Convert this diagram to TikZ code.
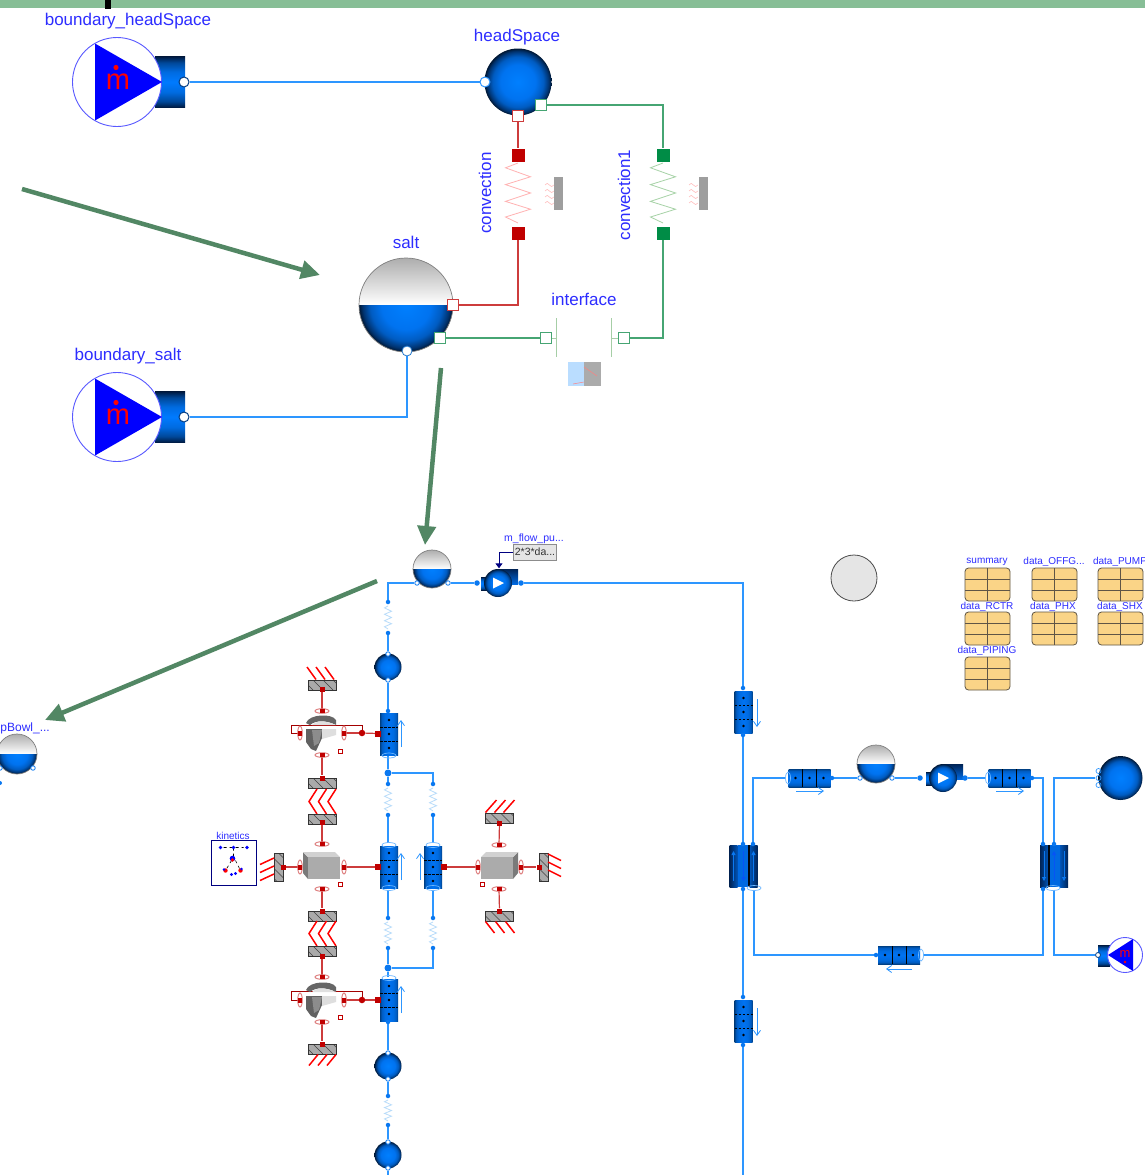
\documentclass[tikz,border=0pt]{standalone}
\usepackage{fontspec}
\setmainfont{Liberation Sans}
\usetikzlibrary{arrows.meta,calc}
\definecolor{flowc}{RGB}{45,150,255}
\definecolor{flowd}{RGB}{10,120,240}
\definecolor{palez}{RGB}{185,220,250}
\definecolor{lblc}{RGB}{45,45,255}
\definecolor{redd}{RGB}{192,0,0}
\definecolor{redl}{RGB}{205,60,60}
\definecolor{grnd}{RGB}{0,140,70}
\definecolor{grnl}{RGB}{70,165,115}
\definecolor{arrowg}{RGB}{82,135,100}
\definecolor{stripg}{RGB}{135,190,150}
\definecolor{tabc}{RGB}{250,212,135}
\definecolor{tabl}{RGB}{95,85,70}
\definecolor{bard}{RGB}{170,170,170}
\definecolor{ddark}{RGB}{0,35,85}
\definecolor{dmid}{RGB}{0,105,225}
\pgfdeclareradialshading{mball}{\pgfpointorigin}{rgb(0bp)=(0,.50,1); rgb(13bp)=(0,.45,.94); rgb(19bp)=(0,.36,.76); rgb(23bp)=(0,.20,.44); rgb(25bp)=(0,.09,.20); rgb(50bp)=(0,.09,.20)}
\pgfdeclareverticalshading{vbody}{100bp}{rgb(0bp)=(0,.10,.25); rgb(25bp)=(0,.10,.25); rgb(31bp)=(0,.28,.60); rgb(40bp)=(0,.42,.88); rgb(50bp)=(0,.48,1); rgb(60bp)=(0,.42,.88); rgb(69bp)=(0,.28,.60); rgb(75bp)=(0,.10,.25); rgb(100bp)=(0,.10,.25)}
\pgfdeclareverticalshading{pbody}{100bp}{rgb(0bp)=(0,.25,.52); rgb(25bp)=(0,.25,.52); rgb(30bp)=(0,.36,.76); rgb(38bp)=(0,.42,.88); rgb(50bp)=(0,.45,.95); rgb(62bp)=(0,.42,.88); rgb(70bp)=(0,.36,.76); rgb(75bp)=(0,.25,.52); rgb(100bp)=(0,.25,.52)}
\pgfdeclarelayer{wires}
\pgfsetlayers{wires,main}
\tikzset{
 flow/.style={draw=flowc,line width=1.05pt},
 redw/.style={draw=redl,line width=1.2pt},
 grnw/.style={draw=grnl,line width=1.25pt},
 big/.style={text=lblc,inner sep=0pt,font=\fontsize{17}{19}\selectfont},
 small/.style={text=lblc,inner sep=0pt,font=\fontsize{10}{12}\selectfont},
 dotp/.style={circle,fill=flowd,inner sep=0pt,minimum size=5.5pt},
 holep/.style={circle,draw=flowd,fill=white,line width=.8pt,inner sep=0pt,minimum size=4.5pt},
 bigp/.style={circle,draw=ddark!70!flowd,fill=white,line width=1pt,inner sep=0pt,minimum size=10pt},
 sqr/.style={rectangle,draw=redl,fill=white,line width=1pt,inner sep=0pt,minimum size=11pt},
 sqg/.style={rectangle,draw=grnl,fill=white,line width=1pt,inner sep=0pt,minimum size=11pt},
 fsqr/.style={rectangle,fill=redd,inner sep=0pt,minimum size=13pt},
 fsqg/.style={rectangle,fill=grnd,inner sep=0pt,minimum size=13pt},
 msq/.style={rectangle,fill=redd,inner sep=0pt,minimum size=5pt},
 tinysq/.style={rectangle,draw=redd,fill=white,line width=.6pt,inner sep=0pt,minimum size=4pt},
 ring/.style={draw=redl!70,line width=.9pt},
 leg/.style={draw=red,line width=1.5pt},
 garrow/.style={draw=arrowg,line width=4.5pt,-{Triangle[length=19pt,width=18pt]}},
 anch/.style={inner sep=0pt,minimum size=1pt},
}
\newcommand{\Ball}[4]{\shade[shading=mball] (#2,#3) circle[radius=#4];
 \node[circle,inner sep=0pt,minimum size=#4*2pt] (#1) at (#2,#3) {};}
\newcommand{\Tank}[4]{\begin{scope}\clip (#2,#3) circle[radius=#4];
 \shade[top color=black!32,bottom color=white] (#2-#4,#3-#4) rectangle (#2+#4,#3);
 \begin{scope}\clip (#2-#4,#3) rectangle (#2+#4,#3+#4);
 \shade[shading=mball] (#2,#3) circle[radius=#4];\end{scope}
 \end{scope}
 \draw[black!50,line width=.7pt] (#2,#3) circle[radius=#4];
 \node[circle,inner sep=0pt,minimum size=#4*2pt] (#1) at (#2,#3) {};}
\newcommand{\Zig}[5]{\draw[#5,line width=.8pt,shift={(#1,#2)},xscale=#4,yscale=#3]
 (0,0)--(-1,.08)--(1,.23)--(-1,.36)--(1,.5)--(-1,.64)--(1,.77)--(-1,.9)--(0,1);}
\newcommand{\Res}[4]{\node[dotp,minimum size=4.5pt] (#1-t) at (#2,#3) {};
 \node[dotp,minimum size=4.5pt] (#1-b) at (#2,#4) {};
 \Zig{#2}{#3+4}{#4-#3-8}{3.5}{palez}}
\newcommand{\VPipe}[3]{\shade[shading=pbody,shading angle=90] (#2-9,#3-21) rectangle (#2+9,#3+21);
 \draw[black,line width=.7pt,dash pattern=on 2.5pt off 1.5pt] (#2-9,#3-7)--(#2+9,#3-7) (#2-9,#3+7)--(#2+9,#3+7);
 \fill[black] (#2,#3-14) circle[radius=1.3] (#2,#3) circle[radius=1.3] (#2,#3+14) circle[radius=1.3];
 \node[inner sep=0pt,minimum width=18pt,minimum height=42pt] (#1) at (#2,#3) {};}
\newcommand{\HPipe}[3]{\shade[shading=pbody] (#2-21,#3-9) rectangle (#2+21,#3+9);
 \draw[black,line width=.7pt] (#2-7,#3-9)--(#2-7,#3+9) (#2+7,#3-9)--(#2+7,#3+9);
 \fill[black] (#2-14,#3) circle[radius=1.3] (#2,#3) circle[radius=1.3] (#2+14,#3) circle[radius=1.3];
 \node[inner sep=0pt,minimum width=42pt,minimum height=18pt] (#1) at (#2,#3) {};}
\newcommand{\FRing}[2]{\draw[flowc!70,line width=.7pt] (#1,#2) ellipse[x radius=7,y radius=2.5];}
\newcommand{\FRingV}[2]{\draw[flowc!70,line width=.7pt] (#1,#2) ellipse[x radius=2.5,y radius=6];}
\newcommand{\PArrow}[4]{\draw[flowc,line width=.8pt,-{Straight Barb[length=5pt,width=7pt]}] (#1,#2)--(#3,#4);}
\newcommand{\HX}[6]{\shade[left color=ddark,right color=dmid!70!ddark] (#2-14,#3-21) rectangle (#2-6,#3+21);
 \shade[left color=dmid!70!ddark,right color=ddark] (#2+6,#3-21) rectangle (#2+14,#3+21);
 \fill[dmid] (#2-6,#3-21) rectangle (#2+6,#3+21);
 \fill[black!85!ddark] (#2+#6-1,#3-21) rectangle (#2+#6+1,#3+21);
 \draw[flowd,line width=.9pt,#4] (#2-10,#3-15)--(#2-10,#3+15);
 \draw[flowd,line width=.9pt,#4] (#2+10,#3-15)--(#2+10,#3+15);
 \draw[flowd!70!blue,line width=.9pt,#5] (#2,#3-15)--(#2,#3+15);
 \node[inner sep=0pt,minimum width=28pt,minimum height=42pt] (#1) at (#2,#3) {};}
\newcommand{\BarH}[3]{\begin{scope}\clip (#2-14,#3-5) rectangle (#2+14,#3+5);
 \fill[bard] (#2-14,#3-5) rectangle (#2+14,#3+5);
 \foreach \d in {-14,-4,6,16}{\draw[black!75,line width=.6pt] (#2+\d-5,#3-5)--(#2+\d+5,#3+5);}
 \end{scope}\draw[black!80,line width=.8pt] (#2-14,#3-5) rectangle (#2+14,#3+5);
 \node[inner sep=0pt,minimum width=28pt,minimum height=10pt] (#1) at (#2,#3) {};}
\newcommand{\BarV}[3]{\begin{scope}\clip (#2-4.5,#3-14) rectangle (#2+4.5,#3+14);
 \fill[bard] (#2-4.5,#3-14) rectangle (#2+4.5,#3+14);
 \foreach \d in {-14,-4,6,16}{\draw[black!75,line width=.6pt] (#2-5,#3+\d-5)--(#2+5,#3+\d+5);}
 \end{scope}\draw[black!80,line width=.8pt] (#2-4.5,#3-14) rectangle (#2+4.5,#3+14);
 \node[inner sep=0pt,minimum width=9pt,minimum height=28pt] (#1) at (#2,#3) {};}
\newcommand{\RingH}[3]{\draw[ring] (#2,#3) ellipse[x radius=7,y radius=2.3];\node[msq,minimum width=5pt,minimum height=4pt] (#1) at (#2,#3) {};}
\newcommand{\RingV}[3]{\draw[ring] (#2,#3) ellipse[x radius=2.3,y radius=7];\node[msq,minimum width=4pt,minimum height=5pt] (#1) at (#2,#3) {};}
\newcommand{\Chev}[2]{\foreach \d in {-5,4.5,14}{\draw[leg,line join=miter] (#1+\d,#2)--(#1+\d-8,#2+12.5)--(#1+\d,#2+25);}}
\newcommand{\Cube}[3]{\begin{scope}[shift={(#1,#2)},xscale=#3]
 \fill[black!52] (-19,-15)--(-14,-10)--(-14,12)--(-19,6)--cycle;
 \fill[black!18] (-19,-15)--(13,-15)--(18,-10)--(-14,-10)--cycle;
 \fill[black!33] (-14,-10) rectangle (18,12);
 \end{scope}}
\newcommand{\Revol}[2]{\begin{scope}[shift={(#1,#2)}]
 \fill[black!60] (-16,-10) .. controls (-13,-19) and (10,-20) .. (14,-13) -- (14,-8) .. controls (4,-13) and (-6,-13) .. (-12,-8) -- cycle;
 \fill[black!12] (-10,-8) .. controls (-5,-13) and (5,-12) .. (14,-8) -- cycle;
 \fill[black!62] (-16,-4)--(0,-4)--(0,5)--(-6,18)--(-11,16)--(-16,9)--cycle;
 \fill[black!45] (-10,-3)--(0,-3)--(-3,10)--(-8,13)--cycle;
 \fill[black!13] (0,-4)--(14,-4)--(14,2)--(0,6)--cycle;
 \end{scope}}
\newcommand{\Boundary}[3]{\begin{scope}[shift={(#2,#3)}]
 \shade[shading=vbody] (38,-25.5) rectangle (68,25.5);
 \draw[blue!65,line width=.9pt,fill=white] (0,0) circle[radius=44.5];
 \fill[blue] (-22,-38.5)--(45,0)--(-22,38.5)--cycle;
 \node[inner sep=0pt,text=red,font=\fontsize{29}{30}\selectfont] (#1-m) at (1,0) {m};
 \fill[red] (-1,-14.5) circle[radius=2.6];
 \end{scope}
 \node[bigp] (#1-p) at (#2+67,#3) {};}
\newcommand{\Pump}[3]{\begin{scope}[shift={(#2,#3)}]
 \shade[shading=vbody] (-17,-6) rectangle (0,7);
 \shade[top color=ddark,bottom color=dmid] (0,-14) rectangle (20,1);
 \shade[shading=mball] (0,0) circle[radius=14];
 \fill[white] (-5,-5.5)--(6,0)--(-5,5.5)--cycle;
 \end{scope}
 \node[circle,inner sep=0pt,minimum size=28pt] (#1) at (#2,#3) {};}
\newcommand{\Tab}[3]{\draw[tabl,line width=.8pt,fill=tabc,rounded corners=3.5pt] (#2,#3) rectangle (#2+45,#3+33);
 \draw[tabl,line width=1pt] (#2+22.5,#3)--(#2+22.5,#3+33) (#2,#3+11)--(#2+45,#3+11) (#2,#3+22)--(#2+45,#3+22);
 \node[inner sep=0pt,minimum width=45pt,minimum height=33pt,anchor=north west] (#1) at (#2,#3) {};}
\newcommand{\Wig}[2]{\foreach \d in {-8,-2,4,10}{\draw[red!25,line width=.6pt] (#1,#2+\d) sin +(2.2,-1.6) cos +(2.2,1.6) sin +(2.2,1.6) cos +(2.2,-1.6);}}
\begin{document}
\begin{tikzpicture}[x=1pt,y=-1pt]
\useasboundingbox (0,0) rectangle (1145,1175);
\begin{pgfonlayer}{wires}\fill[white] (0,0) rectangle (1145,1175);\end{pgfonlayer}
\fill[stripg] (0,0) rectangle (1145,8);
\fill[black] (105,0) rectangle (111,9);
% ---- top diagram
\Boundary{bh}{117}{82}
\Boundary{bs}{117}{417}
\node[big] (lbh) at (128,21) {boundary\_headSpace};
\node[big] (lbs) at (128,356) {boundary\_salt};
\Ball{hs}{518}{82}{33.5}
\node[big] (lhs) at (517,37.5) {headSpace};
\node[bigp,draw=flowc,line width=1pt] (hsp) at (485,82) {};
\node[sqr] (hsr) at (518,116) {};
\node[sqg] (hsg) at (541,105) {};
\Tank{sa}{406}{305}{47}
\node[big] (lsa) at (406,242) {salt};
\node[sqr] (sar) at (453,305) {};
\node[sqg] (sag) at (440,338) {};
\node[holep,minimum size=10pt,draw=flowc!80!black] (sab) at (407,351) {};
\node[big,rotate=90] (lc1) at (485,193) {convection};
\node[fsqr] (c1t) at (518,155) {};
\node[fsqr] (c1b) at (518,233) {};
\Zig{518}{163}{60}{12.5}{red!30}
\fill[black!38] (554,177) rectangle (563,210);
\Wig{545}{193}
\node[fsqg] (c2t) at (663,155) {};
\node[fsqg] (c2b) at (663,233) {};
\Zig{663}{163}{60}{12.5}{green!50!black!35}
\fill[black!38] (699,177) rectangle (708,210);
\Wig{689}{193}
\node[big,rotate=90] (lc2) at (624,195) {convection1};
\node[big] (lif) at (584,299) {interface};
\node[sqg] (ifl) at (546,338) {};
\node[sqg] (ifr) at (624,338) {};
\draw[green!45!black!35,line width=.8pt] (556.5,318)--(556.5,357) (611.5,318)--(611.5,357) (552,338)--(556.5,338) (611.5,338)--(618,338);
\fill[blue!50!cyan!27] (568,362) rectangle (584,386);
\fill[black!33] (584,362) rectangle (601,386);
\draw[red!50,line width=.5pt] (584,367)--(597,376) (573,384)--(584,382);
% ---- lower tank + pump
\Tank{tk}{432}{569}{19}
\node[holep] (tkl) at (417,583) {};
\node[holep] (tkr) at (448,583) {};
\Pump{pu}{498}{583}
\node[dotp] (pul) at (477,583) {};
\node[dotp] (pur) at (521,583) {};
\node[small,font=\fontsize{10.5}{12}\selectfont] (lmf) at (534,538.5) {m\_flow\_pu...};
\node[draw=black!45,fill=black!10,line width=1pt,inner sep=0pt,minimum width=43pt,minimum height=16pt,font=\fontsize{10.5}{12}\selectfont,text=black!80] (cst) at (535,552) {2*3*da...};
\node[anch] (put) at (499,569) {};
\draw[blue!50!black,line width=1pt,-{Triangle[length=5pt,width=7pt]}] (cst.west) -| (put);
\node[circle,draw=black!70,fill=black!10,line width=.8pt,inner sep=0pt,minimum size=46pt] (dsk) at (854,578) {};
% tables
\node[small] (t1) at (987,562) {summary};
\node[small] (t2) at (1054,562) {data\_OFFG...};
\node[small] (t3) at (1120,562) {data\_PUMP};
\node[small] (t4) at (987,606.5) {data\_RCTR};
\node[small] (t5) at (1053,606.5) {data\_PHX};
\node[small] (t6) at (1120,606.5) {data\_SHX};
\node[small] (t7) at (987,651) {data\_PIPING};
\Tab{d1}{965}{568}\Tab{d2}{1032}{568}\Tab{d3}{1098}{568}
\Tab{d4}{965}{612}\Tab{d5}{1032}{612}\Tab{d6}{1098}{612}
\Tab{d7}{965}{657}
% left tank
\Tank{lt}{17}{754}{20}
\node[holep] (ltl) at (0,768) {};
\node[holep] (ltr) at (33,768) {};
\node[small,anchor=east,font=\fontsize{12}{13}\selectfont] (llt) at (50,728) {pBowl\_...};
\node[dotp,minimum size=4pt] (ltd) at (0,783) {};
% ---- core column
\Res{r1}{388}{602}{633}
\Ball{s1}{388}{667}{13.5}
\node[holep] (s1t) at (388,654) {};
\node[holep] (s1b) at (388,680) {};
\VPipe{p1}{389}{734}
\node[dotp,minimum size=4.5pt] (p1t) at (388,711) {};
\FRing{389}{755.5}
\node[anch] (p1b) at (388,755) {};
\PArrow{401}{747}{401}{720}
\node[dotp,minimum size=7pt] (j1) at (388,773) {};
\Res{r2}{388}{784}{815}
\Res{r3}{433}{784}{815}
\VPipe{p2}{389}{867}\VPipe{p2b}{433}{867}
\FRing{389}{845}\FRing{389}{888}\FRing{433}{845}\FRing{433}{888}
\node[anch] (p2t) at (388,844) {};
\node[anch] (p2d) at (388,889) {};
\node[anch] (p3t) at (433,844) {};
\node[anch] (p3d) at (433,889) {};
\PArrow{401}{880}{401}{853}
\PArrow{420}{880}{420}{853}
\Res{r4}{388}{918}{948}
\Res{r5}{433}{918}{948}
\node[dotp,minimum size=7pt] (j2) at (388,968) {};
\VPipe{p4}{389}{1000}
\FRing{389}{978}
\node[anch] (p4t) at (388,978) {};
\node[dotp,minimum size=4.5pt] (p4b) at (388,1022) {};
\PArrow{401}{1013}{401}{986}
\Ball{s3}{388}{1066}{13.5}
\node[holep] (s3t) at (388,1053) {};
\node[holep] (s3b) at (388,1079) {};
\Res{r6}{388}{1096}{1125}
\Ball{s4}{388}{1155}{13.5}
\node[holep] (s4t) at (388,1142) {};
\node[holep] (s4b) at (388,1168) {};
\coordinate (e1) at (388,1175);
% ---- mechanical: upper left
\BarH{b1}{322}{685}
\node[msq] (b1p) at (322,689) {};
\foreach \d in {-5,4,13}{\draw[leg] (322+\d-1,679.5)--(322+\d-10,667);}
\RingH{rg1}{322}{711}
\Revol{322}{733}
\RingV{rg2}{300}{733}
\RingV{rg3}{344}{733}
\node[circle,fill=redd,inner sep=0pt,minimum size=6.5pt] (dt1) at (362,733) {};
\node[msq,minimum size=6pt] (pp1) at (378,733.5) {};
\node[tinysq] (tq1) at (340,751) {};
\RingH{rg4}{322}{755}
\BarH{b2}{322}{783}
\node[msq] (b2p) at (322,778) {};
\Chev{322}{789}
\BarH{b3}{322}{819}
\node[msq] (b3p) at (322,822) {};
\RingH{rg5}{322}{844}
\Cube{322}{867}{1}
\RingV{rg6}{300}{867}
\RingV{rg7}{344}{867}
\node[msq,minimum size=6pt] (pp2) at (378,867) {};
\node[tinysq] (tq2) at (340,884) {};
\BarV{b4}{278.5}{867}
\node[msq] (b4p) at (283,867) {};
\foreach \d in {-8,0,8}{\draw[leg] (274,867+\d-1)--(260,867+\d+5.5);}
\node[draw=blue!50!black,fill=white,line width=.9pt,inner sep=0pt,minimum size=45pt] (kin) at (233.5,862.5) {};
\node[small] (lkin) at (233,836) {kinetics};
\begin{scope}[shift={(233.5,862.5)}]
\draw[black,line width=.6pt,dashed] (-10,-15)--(10,-15) (0,-15)--(0,-5) (-2,-2)--(-8,8) (2,-2)--(7,8);
\fill[blue] (-13,-15) circle[radius=1.8] (0,-15) circle[radius=1.8] (13.5,-15) circle[radius=1.8];
\fill[blue] (-1,-4) circle[radius=2.8]; \fill[red] (-1,-2.5) circle[radius=1.8];
\fill[red] (-8,8) circle[radius=2.2]; \fill[blue] (-9.5,7) circle[radius=1.4];
\fill[red] (7,8) circle[radius=2.2]; \fill[blue] (8,6.5) circle[radius=1.4];
\fill[blue] (-2,12) circle[radius=1.6] (2,11) circle[radius=1.6];
\end{scope}
% ---- mechanical: lower left
\RingH{rg8}{322}{889}
\BarH{b5}{322}{916}
\node[msq] (b5p) at (322,911) {};
\Chev{322}{921}
\BarH{b6}{322}{951}
\node[msq] (b6p) at (322,956) {};
\RingH{rg9}{322}{977}
\Revol{322}{1000}
\RingV{rg10}{300}{1000}
\RingV{rg11}{344}{1000}
\node[circle,fill=redd,inner sep=0pt,minimum size=6.5pt] (dt2) at (362,1000) {};
\node[msq,minimum size=6pt] (pp3) at (378,1000) {};
\node[tinysq] (tq3) at (340,1017) {};
\RingH{rg12}{322}{1022}
\BarH{b7}{322}{1049}
\node[msq] (b7p) at (322,1044) {};
\foreach \d in {-14,-5,4}{\draw[leg] (322+\d+10,1054.5)--(322+\d+1,1065.5);}
% ---- mechanical: right
\Cube{499}{867}{-1}
\RingV{rg13}{478}{867}
\RingV{rg14}{521}{867}
\RingH{rg15}{499}{845}
\RingH{rg16}{499}{889}
\node[msq,minimum size=6pt] (pp4) at (444,867) {};
\node[tinysq] (tq4) at (482,884) {};
\BarH{b8}{499.5}{818}
\node[msq] (b8p) at (499.5,823) {};
\foreach \d in {-13,-4,5}{\draw[leg] (499.5+\d-1,812.5)--(499.5+\d+10,800);}
\BarH{b9}{499.5}{916}
\node[msq] (b9p) at (499.5,911) {};
\foreach \d in {-14,-4,6}{\draw[leg] (499.5+\d,921.5)--(499.5+\d+9,933);}
\BarV{b10}{543.5}{867}
\node[msq] (b10p) at (539,867) {};
\foreach \d in {-8,0,8}{\draw[leg] (548,867+\d-5)--(561,867+\d+1.5);}
% ---- main right
\VPipe{pa}{743.5}{712}
\node[dotp,minimum size=4.5pt] (pat) at (743,688) {};
\node[dotp,minimum size=4.5pt] (pab) at (743,735) {};
\PArrow{757}{699}{757}{727}
\HX{hx1}{743.5}{866}{{Triangle[length=4pt,width=4pt]}-}{-{Triangle[length=4pt,width=4pt]}}{5.5}
\node[dotp,minimum size=4.5pt] (hxt) at (743,844) {};
\node[dotp,minimum size=4.5pt] (hxb) at (743,889) {};
\node[dotp,minimum size=4.5pt] (hxrt) at (753,844) {};
\FRing{754}{888}
\node[anch] (hxrb) at (754,889) {};
\VPipe{pb}{743.5}{1021}
\node[dotp,minimum size=4.5pt] (pbt) at (743,997) {};
\node[dotp,minimum size=4.5pt] (pbb) at (743,1045) {};
\PArrow{757}{1008}{757}{1036}
\coordinate (e2) at (743,1175);
% ---- loop
\HPipe{h1}{809.5}{778}
\FRingV{788}{778}
\node[anch] (h1l) at (787,778) {};
\node[dotp,minimum size=4.5pt] (h1r) at (832,778) {};
\PArrow{796}{791}{824}{791}
\Tank{tk2}{876}{764}{19}
\node[holep] (t2l) at (860,778) {};
\node[holep] (t2r) at (892,778) {};
\Pump{pu2}{943}{778}
\node[dotp] (p2l) at (920,778) {};
\node[dotp] (p2r) at (965,778) {};
\HPipe{h2}{1009.5}{778}
\FRingV{988}{778}
\node[anch] (h2l) at (987,778) {};
\node[dotp,minimum size=4.5pt] (h2r) at (1032,778) {};
\PArrow{996}{791}{1024}{791}
\HX{hx2}{1054}{866}{-{Triangle[length=4pt,width=4pt]}}{{Triangle[length=4pt,width=4pt]}-}{-5.5}
\node[dotp,minimum size=4.5pt] (hx2t) at (1043,844) {};
\node[dotp,minimum size=4.5pt] (hx2u) at (1054,844) {};
\node[dotp,minimum size=4.5pt] (hx2b) at (1043,889) {};
\FRing{1053}{888}
\node[anch] (hx2v) at (1054,889) {};
\HPipe{h3}{899}{955}
\node[dotp,minimum size=4.5pt] (h3l) at (876,955) {};
\FRingV{921}{955}
\node[anch] (h3r) at (922,955) {};
\PArrow{912}{969}{886}{969}
\Ball{sk}{1120.5}{778}{22}
\foreach \d in {-7,0,7}{\draw[flowc,line width=.7pt] (1098.5,778+\d) circle[radius=2.5];}
\node[anch] (skp) at (1096,778) {};
% small boundary
\shade[shading=vbody] (1098,945) rectangle (1110,966);
\draw[blue!65,line width=.9pt,fill=white] (1125,955) circle[radius=17.5];
\fill[blue] (1108,955)--(1133,939)--(1133,971)--cycle;
\node[inner sep=0pt,text=red,font=\fontsize{13}{14}\selectfont] (bsm) at (1125,954) {m};
\fill[red] (1125,962) circle[radius=1.4];
\node[holep,minimum size=5pt,draw=ddark!70!flowd] (bsp) at (1098,955) {};
% ---- wires
\begin{pgfonlayer}{wires}
\draw[flow] (bh-p) -- (hsp);
\draw[flow] (bs-p) -| (sab);
\draw[redw] (hsr) -- (c1t);
\draw[grnw] (hsg) -| (c2t);
\draw[redw] (sar) -| (c1b);
\draw[grnw] (sag) -- (ifl);
\draw[grnw] (ifr) -| (c2b);
\draw[flow] (tkl) -| (r1-t);
\draw[flow] (tkr) -- (pul);
\draw[flow] (pur) -| (pat);
\draw[flow] (r1-b) -- (s1t);
\draw[flow] (s1b) -- (p1t);
\draw[flow] (p1b) -- (j1);
\draw[flow] (j1) -- (r2-t);
\draw[flow] (j1) -| (r3-t);
\draw[flow] (r2-b) -- (p2t);
\draw[flow] (r3-b) -- (p3t);
\draw[flow] (p2d) -- (r4-t);
\draw[flow] (p3d) -- (r5-t);
\draw[flow] (r4-b) -- (j2);
\draw[flow] (j2) -| (r5-b);
\draw[flow] (j2) -- (p4t);
\draw[flow] (p4b) -- (s3t);
\draw[flow] (s3b) -- (r6-t);
\draw[flow] (r6-b) -- (s4t);
\draw[flow] (s4b) -- (e1);
\draw[redw] (b1p) -- (rg1);
\draw[redw] (rg4) -- (b2p);
\draw[redw] (b3p) -- (rg5);
\draw[redw] (rg8) -- (b5p);
\draw[redw] (b6p) -- (rg9);
\draw[redw] (rg12) -- (b7p);
\draw[redw] (rg3) -- (dt1);
\draw[redw] (dt1) -- (pp1);
\draw[redw] (rg11) -- (dt2);
\draw[redw] (dt2) -- (pp3);
\draw[redw] (rg7) -- (pp2);
\draw[redw] (b4p) -- (rg6);
\draw[redw] (pp4) -- (rg13);
\draw[redw] (rg14) -- (b10p);
\draw[redw] (b8p) -- (rg15);
\draw[redw] (rg16) -- (b9p);
\draw[draw=redd!85!black,line width=1pt] (dt1) |- ($(rg2)+(-9,-8)$) |- (rg2);
\draw[draw=redd!85!black,line width=1pt] (dt2) |- ($(rg10)+(-9,-9)$) |- (rg10);
\draw[flow] (pab) -- (hxt);
\draw[flow] (hxb) -- (pbt);
\draw[flow] (pbb) -- (e2);
\draw[flow] (hxrt) |- (h1l);
\draw[flow] (h1r) -- (t2l);
\draw[flow] (t2r) -- (p2l);
\draw[flow] (p2r) -- (h2l);
\draw[flow] (h2r) -| (hx2t);
\draw[flow] (hx2u) |- (skp);
\draw[flow] (hx2b) |- (h3r);
\draw[flow] (h3l) -| (hxrb);
\draw[flow] (hx2v) |- (bsp);
\end{pgfonlayer}
% ---- green arrows
\coordinate (g1a) at (22,189);\coordinate (g1b) at (320,275);
\coordinate (g2a) at (441,368);\coordinate (g2b) at (425,545);
\coordinate (g3a) at (377,581);\coordinate (g3b) at (45,720);
\draw[garrow] (g1a) -- (g1b);
\draw[garrow] (g2a) -- (g2b);
\draw[garrow] (g3a) -- (g3b);
\end{tikzpicture}
\end{document}
